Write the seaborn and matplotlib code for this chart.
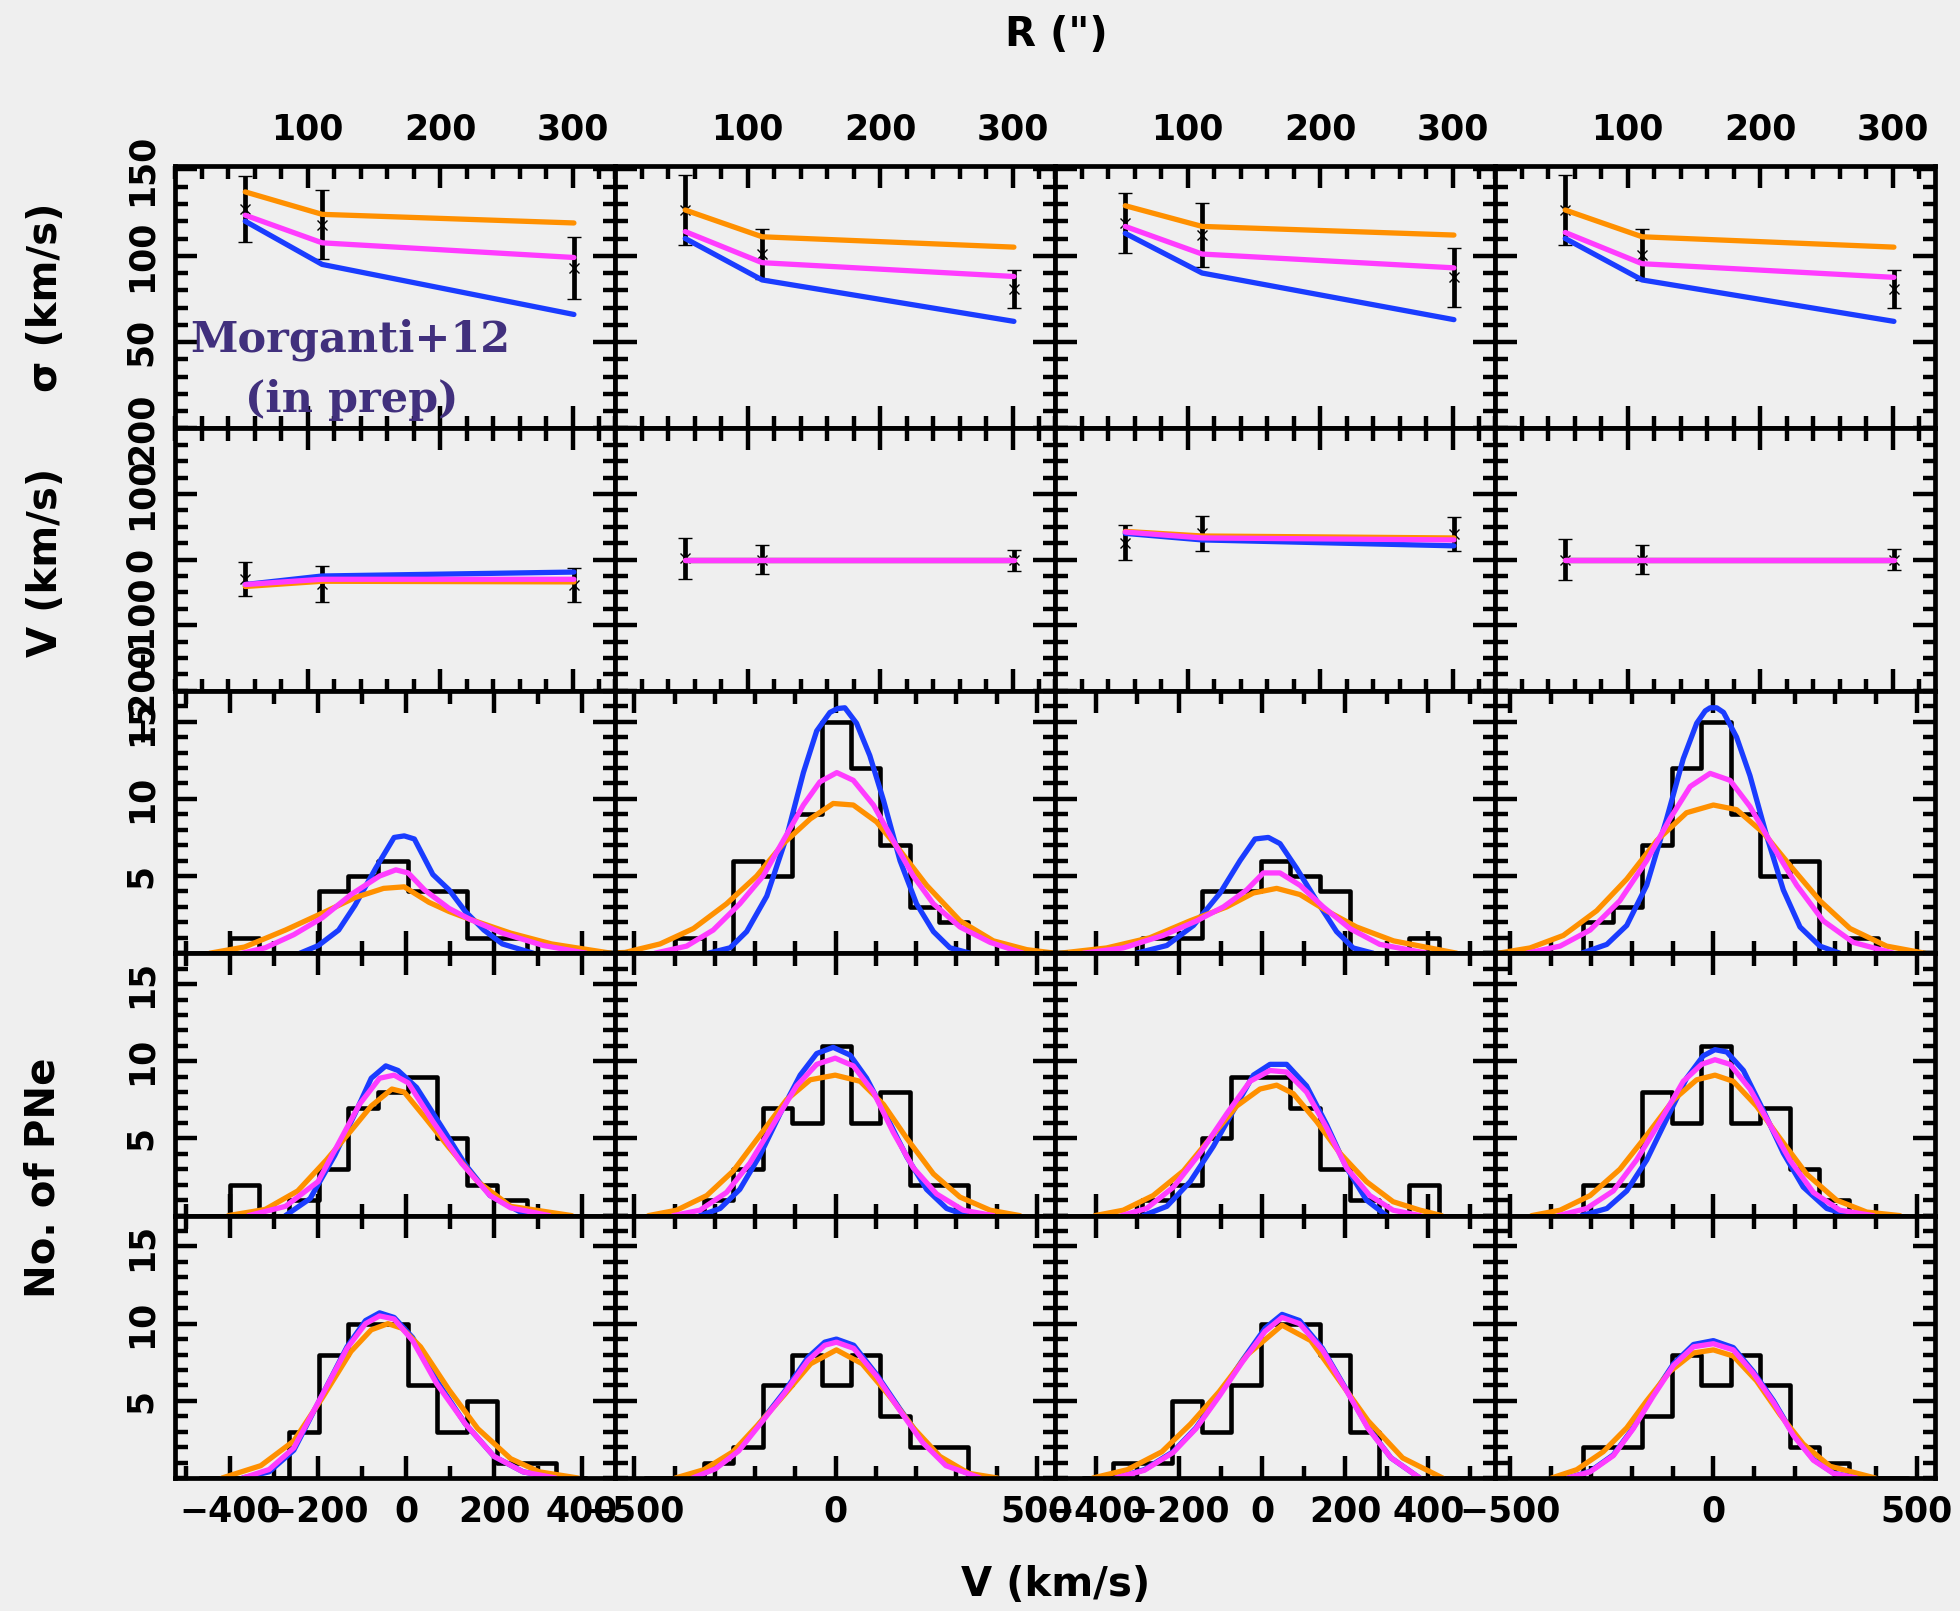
import matplotlib.pyplot as plt
import seaborn as sns
import numpy as np
from matplotlib.ticker import MultipleLocator, FixedLocator

BLUE = '#1a3cff'
MAGENTA = '#ff3cff'
ORANGE = '#ff9000'
BG = '#efefef'

# ---- kinematic profiles (top two rows), radius in arcsec ----
r_points = [53, 111, 301]

sigma_data = [[127, 118, 93], [126.5, 101, 81], [119, 112, 87.5], [126.5, 100.7, 81]]
sigma_err = [[19, 20, 18], [20, 14.5, 11], [17.5, 18.5, 17], [20.5, 15, 11]]
sigma_blue = [[120, 95, 66], [110, 86, 62], [113, 90, 63], [110, 86, 62]]
sigma_magenta = [[123.5, 107.5, 99], [114, 96, 88], [117, 101, 93], [113.5, 95.4, 87.5]]
sigma_orange = [[137, 124, 119], [126.5, 111, 105], [129, 117, 112], [126.5, 111, 105]]

vel_data = [[-29, -37, -39], [2, 0, -1], [26, 40, 39], [0, 0, 0]]
vel_err = [[26, 28, 26], [31, 22, 16], [26, 27, 26], [31, 22, 16]]
vel_blue = [[-38, -25, -19], [0, 0, 0], [40, 30, 21], [0, 0, 0]]
vel_magenta = [[-38, -30, -30], [0, 0, 0], [42, 33, 30], [0, 0, 0]]
vel_orange = [[-41, -33, -34], [0, 0, 0], [43, 36, 33], [0, 0, 0]]

# ---- velocity histograms (bottom three rows) ----
vel_range = [(-525, 475), (-548, 545), (-498, 560), (-537, 545)]

hist_edges = [
    [-468.5, -401, -333.5, -266, -198.5, -131, -63.5, 4, 71.5, 139, 206.5, 274, 341.5, 409],
    [-473, -400, -327, -254, -181, -108, -35, 38, 111, 184, 257, 330, 403],
    [-430, -359, -288, -216, -145, -74, -3, 68, 140, 211, 282, 353, 425, 496],
    [-392.5, -320, -247.5, -175, -102.5, -30, 42.5, 115, 187.5, 260, 332.5, 405, 477.5],
]
counts_row3 = [
    [0, 1, 0, 0, 4, 5, 6, 4, 4, 1, 1, 0, 0],
    [0, 1, 0, 6, 5, 9, 15, 12, 7, 3, 2, 0],
    [0, 0, 1, 1, 4, 4, 6, 5, 4, 0, 0, 1, 0],
    [0, 2, 3, 7, 12, 15, 9, 5, 6, 0, 1, 0],
]
counts_row4 = [
    [0, 2, 0, 1, 3, 7, 8, 9, 5, 2, 1, 0, 0],
    [0, 0, 1, 3, 7, 6, 11, 6, 8, 2, 2, 0],
    [0, 0, 1, 2, 5, 9, 9, 7, 3, 1, 0, 2, 0],
    [0, 2, 2, 8, 6, 11, 6, 7, 3, 1, 0, 0],
]
counts_row5 = [
    [0, 0, 0, 3, 8, 10, 10, 6, 3, 5, 1, 1, 0],
    [0, 0, 1, 2, 6, 8, 6, 8, 4, 2, 2, 0],
    [0, 1, 1, 5, 3, 6, 10, 10, 8, 3, 0, 0, 0],
    [0, 2, 2, 4, 8, 6, 8, 6, 2, 1, 0, 0],
]

# model LOSVDs: (x, y) for each model
losvd_r3c1 = {
    'blue': ([-241, -199, -153, -116, -69, -27, -4, 19, 61, 98, 135, 177, 219, 289],
             [0, 0.5, 1.5, 3.1, 5.5, 7.5, 7.6, 7.4, 5.1, 4.1, 2.7, 1.5, 0.6, 0]),
    'magenta': ([-372, -320, -255, -190, -125, -60, -23, 5, 42, 98, 145, 219, 312, 410],
                [0, 0.35, 1.2, 2.3, 3.8, 5.0, 5.4, 5.2, 4.1, 2.9, 2.2, 1.3, 0.5, 0]),
    'orange': ([-446, -367, -274, -190, -116, -51, -4, 52, 98, 145, 238, 331, 466],
               [0, 0.4, 1.5, 2.6, 3.6, 4.2, 4.3, 3.3, 2.7, 2.2, 1.3, 0.6, 0]),
}
losvd_r3c2 = {
    'blue': ([-316, -262, -221, -171, -121, -80, -47, -14, 5, 23, 52, 85, 119, 160, 201, 243, 284, 334],
             [0, 0.35, 1.4, 3.7, 7.6, 11.7, 14.4, 15.6, 15.85, 15.9, 14.9, 12.8, 9.9, 6.0, 3.2, 1.4, 0.35, 0]),
    'magenta': ([-449, -370, -304, -238, -180, -130, -80, -39, 3, 44, 94, 143, 193, 243, 309, 384, 466],
                [0, 0.46, 1.5, 3.2, 5.0, 7.3, 9.6, 11.1, 11.7, 11.2, 9.6, 7.3, 5.0, 3.2, 1.7, 0.7, 0]),
    'orange': ([-548, -523, -436, -353, -271, -196, -130, -63, -6, 44, 102, 160, 226, 309, 392, 475, 545],
               [0.02, 0.05, 0.6, 1.6, 3.2, 5.0, 7.1, 8.7, 9.7, 9.6, 8.5, 6.65, 4.4, 2.1, 0.8, 0.23, 0]),
}
losvd_r3c3 = {
    'blue': ([-302, -229, -165, -101, -53, -17, 15, 43, 83, 131, 179, 219, 267],
             [0, 0.5, 1.8, 3.9, 6.0, 7.4, 7.5, 7.1, 5.5, 3.4, 1.4, 0.34, 0]),
    'magenta': ([-430, -334, -238, -157, -93, -37, 3, 43, 91, 147, 211, 283, 396],
                [0, 0.34, 1.15, 2.1, 3.0, 4.1, 5.2, 5.2, 4.4, 3.0, 1.6, 0.57, 0]),
    'orange': ([-486, -374, -270, -173, -85, -21, 35, 91, 155, 227, 316, 468],
               [0, 0.34, 1.0, 2.1, 3.0, 3.9, 4.2, 3.8, 2.75, 1.7, 0.8, 0]),
}
losvd_r3c4 = {
    'blue': ([-324, -262, -213, -164, -115, -74, -41, -20, -8, 8, 25, 57, 90, 131, 172, 213, 262, 311],
             [0, 0.57, 1.8, 4.4, 8.7, 12.6, 14.9, 15.7, 15.9, 15.9, 15.6, 14.0, 11.5, 7.6, 4.1, 1.7, 0.46, 0]),
    'magenta': ([-459, -377, -303, -230, -164, -107, -57, -8, 41, 90, 147, 205, 270, 344, 443],
                [0, 0.46, 1.5, 3.4, 6.0, 8.7, 10.8, 11.65, 11.2, 9.5, 6.9, 4.4, 2.1, 0.7, 0]),
    'orange': ([-529, -451, -369, -287, -213, -139, -66, 0, 57, 123, 188, 262, 336, 426, 520],
               [0, 0.34, 1.15, 2.75, 4.8, 7.3, 9.1, 9.6, 9.3, 7.8, 5.7, 3.4, 1.6, 0.46, 0]),
}
losvd_r4c1 = {
    'blue': ([-274, -218, -162, -116, -79, -46, -18, 24, 80, 135, 191, 275],
             [0, 1.1, 3.9, 6.6, 8.9, 9.7, 9.4, 8.3, 5.8, 3.3, 1.3, 0]),
    'magenta': ([-358, -274, -200, -153, -106, -60, -27, 5, 61, 126, 191, 238, 326],
                [0, 0.6, 2.2, 4.7, 7.2, 8.9, 9.1, 8.6, 6.1, 3.4, 1.3, 0.5, 0]),
    'orange': ([-404, -320, -246, -181, -125, -79, -32, -4, 42, 98, 163, 238, 377],
               [0, 0.4, 1.6, 3.6, 5.5, 7.1, 8.2, 8.0, 6.4, 4.4, 2.2, 0.6, 0]),
}
losvd_r4c2 = {
    'blue': ([-337, -287, -238, -188, -138, -88, -47, -6, 36, 77, 127, 177, 226, 276, 326],
             [0, 0.46, 1.7, 3.9, 6.6, 9.1, 10.5, 10.9, 10.4, 8.9, 6.4, 3.8, 1.7, 0.46, 0]),
    'magenta': ([-403, -337, -271, -213, -155, -97, -47, -1, 44, 94, 143, 193, 251, 317, 392],
                [0, 0.35, 1.5, 3.4, 5.9, 8.4, 9.8, 10.2, 9.7, 8.0, 5.4, 3.1, 1.4, 0.35, 0]),
    'orange': ([-465, -395, -320, -254, -188, -122, -63, -1, 61, 119, 177, 243, 309, 384, 458],
               [0, 0.35, 1.3, 2.9, 5.2, 7.5, 8.8, 9.1, 8.7, 7.2, 5.0, 2.7, 1.2, 0.35, 0]),
}
losvd_r4c3 = {
    'blue': ([-286, -229, -173, -117, -69, -21, 19, 59, 107, 155, 203, 251, 299],
             [0, 0.6, 2.2, 4.5, 6.8, 9.1, 9.8, 9.8, 8.4, 5.9, 3.1, 1.0, 0]),
    'magenta': ([-338, -278, -213, -149, -85, -29, 19, 59, 107, 155, 203, 259, 315, 380],
                [0, 0.46, 1.85, 4.05, 6.6, 8.7, 9.4, 9.3, 8.0, 5.7, 3.1, 1.3, 0.35, 0]),
    'orange': ([-402, -334, -262, -189, -125, -61, -5, 35, 75, 131, 187, 251, 315, 380, 432],
               [0, 0.35, 1.3, 2.9, 5.0, 7.1, 8.2, 8.45, 7.9, 6.1, 4.05, 2.2, 0.9, 0.35, 0]),
}
losvd_r4c4 = {
    'blue': ([-324, -262, -213, -164, -115, -66, -25, 4, 33, 74, 123, 172, 221, 279, 336],
             [0, 0.46, 1.6, 3.6, 6.25, 8.9, 10.35, 10.75, 10.6, 9.4, 6.8, 4.05, 1.85, 0.46, 0]),
    'magenta': ([-381, -312, -246, -189, -131, -74, -29, 4, 41, 90, 139, 188, 246, 311, 393],
                [0, 0.46, 1.6, 3.6, 6.1, 8.7, 9.8, 10.1, 9.8, 8.2, 5.9, 3.6, 1.5, 0.35, 0]),
    'orange': ([-447, -377, -303, -230, -164, -98, -41, 4, 49, 106, 164, 229, 303, 377, 459],
               [0, 0.35, 1.3, 3.0, 5.2, 7.5, 8.8, 9.1, 8.7, 7.1, 5.0, 2.7, 1.0, 0.23, 0]),
}
losvd_r5c1 = {
    'blue': ([-371, -311, -255, -190, -134, -92, -60, -27, 15, 70, 135, 200, 266, 340],
             [0, 0.4, 1.8, 5.4, 8.5, 10.2, 10.7, 10.4, 9.1, 6.3, 3.5, 1.4, 0.4, 0]),
    'magenta': ([-371, -311, -255, -190, -134, -92, -60, -27, 15, 70, 135, 200, 266, 340],
                [0, 0.55, 1.95, 5.4, 8.4, 10.0, 10.5, 10.3, 8.9, 6.1, 3.5, 1.4, 0.4, 0]),
    'orange': ([-418, -330, -255, -190, -125, -79, -41, -9, 33, 98, 163, 238, 303, 391],
               [0, 0.8, 2.4, 5.2, 8.2, 9.6, 10.0, 9.7, 8.5, 5.7, 3.2, 1.25, 0.4, 0]),
}
losvd_r5c2 = {
    'blue': ([-355, -298, -241, -184, -127, -69, -27, 2, 45, 102, 159, 216, 274, 359],
             [0, 0.65, 1.8, 3.7, 5.6, 7.8, 8.8, 9.0, 8.6, 6.7, 4.5, 2.4, 0.87, 0]),
    'magenta': ([-355, -298, -241, -184, -127, -69, -27, 2, 45, 102, 159, 216, 274, 359],
                [0, 0.6, 1.75, 3.6, 5.5, 7.6, 8.6, 8.8, 8.4, 6.6, 4.4, 2.3, 0.8, 0]),
    'orange': ([-398, -327, -255, -191, -127, -62, 2, 66, 131, 195, 259, 331, 402],
               [0, 0.54, 1.7, 3.5, 5.4, 7.4, 8.3, 7.4, 5.4, 3.2, 1.4, 0.3, 0]),
}
losvd_r5c3 = {
    'blue': ([-352, -283, -214, -159, -103, -48, 7, 48, 90, 145, 200, 255, 310, 379],
             [0, 0.54, 1.7, 3.25, 5.4, 7.6, 9.7, 10.6, 10.2, 8.4, 5.85, 3.25, 1.3, 0]),
    'magenta': ([-352, -283, -214, -159, -103, -48, 7, 48, 90, 145, 200, 255, 310, 379],
                [0, 0.5, 1.65, 3.2, 5.3, 7.5, 9.5, 10.4, 10.0, 8.3, 5.8, 3.2, 1.3, 0]),
    'orange': ([-407, -324, -241, -172, -103, -35, 48, 117, 186, 255, 338, 434],
               [0, 0.54, 1.7, 3.5, 5.6, 8.0, 9.9, 8.9, 6.3, 3.7, 1.3, 0]),
}
losvd_r5c4 = {
    'blue': ([-357, -303, -246, -197, -148, -98, -49, 0, 49, 98, 148, 197, 246, 295, 352],
             [0, 0.43, 1.5, 3.25, 5.4, 7.4, 8.65, 8.9, 8.45, 6.9, 5.0, 2.8, 1.2, 0.32, 0]),
    'magenta': ([-357, -303, -246, -197, -148, -98, -49, 0, 49, 98, 148, 197, 246, 295, 352],
                [0, 0.4, 1.45, 3.2, 5.3, 7.3, 8.5, 8.7, 8.3, 6.8, 4.9, 2.75, 1.15, 0.3, 0]),
    'orange': ([-398, -336, -271, -213, -164, -107, -49, 0, 49, 106, 164, 221, 287, 398],
               [0, 0.54, 1.7, 3.25, 5.0, 6.9, 8.1, 8.3, 7.9, 6.3, 4.1, 2.2, 0.76, 0]),
}

hist_counts = [counts_row3, counts_row4, counts_row5]
losvds = [
    [losvd_r3c1, losvd_r3c2, losvd_r3c3, losvd_r3c4],
    [losvd_r4c1, losvd_r4c2, losvd_r4c3, losvd_r4c4],
    [losvd_r5c1, losvd_r5c2, losvd_r5c3, losvd_r5c4],
]

sns.set_style('ticks')
plt.rcParams['font.family'] = ['DejaVu Sans']
plt.rcParams['font.weight'] = 'bold'
plt.rcParams['text.color'] = 'black'
plt.rcParams['axes.labelcolor'] = 'black'
plt.rcParams['axes.unicode_minus'] = True

fig, axes = plt.subplots(5, 4, figsize=(19.6, 16.11), dpi=100)
fig.patch.set_facecolor(BG)
fig.subplots_adjust(left=175 / 1960, right=1935 / 1960, top=1 - 166 / 1611,
                    bottom=1 - 1478 / 1611, wspace=0, hspace=0)

LABEL_SIZE = 25
TITLE_SIZE = 29
LW = 3.8


def style_axis(ax):
    ax.set_facecolor(BG)
    for s in ax.spines.values():
        s.set_linewidth(3.4)
        s.set_color('black')
    ax.tick_params(which='both', direction='in', top=True, right=True,
                   bottom=True, left=True, width=3.2, colors='black',
                   labelsize=LABEL_SIZE, labelbottom=False, labeltop=False,
                   labelleft=False, labelright=False)
    ax.tick_params(which='major', length=16)
    ax.tick_params(which='minor', length=9)
    ax.set_xlabel('')
    ax.set_ylabel('')


def rotate_ylabels(ax):
    ax.tick_params(axis='y', labelleft=True, labelrotation=90, pad=12)
    for lbl in ax.get_yticklabels():
        lbl.set_verticalalignment('center')


def draw_errors(ax, y, err):
    ax.errorbar(r_points, y, yerr=err, fmt='x', color='black', ms=7, mew=1.0,
                elinewidth=3.4, capsize=5, capthick=3.4, zorder=2)


for c in range(4):
    # sigma profile
    ax = axes[0, c]
    draw_errors(ax, sigma_data[c], sigma_err[c])
    for vals, col in ((sigma_blue[c], BLUE), (sigma_orange[c], ORANGE), (sigma_magenta[c], MAGENTA)):
        sns.lineplot(x=r_points, y=vals, color=col, lw=LW, ax=ax, zorder=3)
    style_axis(ax)
    ax.set_xlim(0, 332)
    ax.set_ylim(0, 152)
    ax.xaxis.set_major_locator(FixedLocator([100, 200, 300]))
    ax.xaxis.set_minor_locator(MultipleLocator(20))
    ax.yaxis.set_major_locator(FixedLocator([50, 100, 150]))
    ax.yaxis.set_minor_locator(MultipleLocator(10))
    ax.tick_params(axis='x', labeltop=True, pad=14)
    if c == 0:
        rotate_ylabels(ax)

    # mean velocity profile
    ax = axes[1, c]
    draw_errors(ax, vel_data[c], vel_err[c])
    for vals, col in ((vel_blue[c], BLUE), (vel_orange[c], ORANGE), (vel_magenta[c], MAGENTA)):
        sns.lineplot(x=r_points, y=vals, color=col, lw=LW, ax=ax, zorder=3)
    style_axis(ax)
    ax.set_xlim(0, 332)
    ax.set_ylim(-200, 200)
    ax.xaxis.set_major_locator(FixedLocator([100, 200, 300]))
    ax.xaxis.set_minor_locator(MultipleLocator(20))
    ax.yaxis.set_major_locator(FixedLocator([-200, -100, 0, 100, 200]))
    ax.yaxis.set_minor_locator(MultipleLocator(25))
    if c == 0:
        rotate_ylabels(ax)

    # histograms of PN velocities with model LOSVDs
    edges = hist_edges[c]
    centers = [(a + b) / 2 for a, b in zip(edges[:-1], edges[1:])]
    for r in range(3):
        ax = axes[r + 2, c]
        sns.histplot(x=centers, weights=hist_counts[r][c], bins=edges, element='step',
                     fill=False, color='black', linewidth=3.3, ax=ax)
        curves = losvds[r][c]
        for key, col in (('blue', BLUE), ('orange', ORANGE), ('magenta', MAGENTA)):
            xs, ys = curves[key]
            sns.lineplot(x=xs, y=ys, color=col, lw=LW, ax=ax)
        style_axis(ax)
        ax.set_xlim(*vel_range[c])
        ax.set_ylim(0, 17)
        if c in (0, 2):
            ax.xaxis.set_major_locator(MultipleLocator(200))
        else:
            ax.xaxis.set_major_locator(MultipleLocator(500))
        ax.xaxis.set_minor_locator(MultipleLocator(100))
        ax.yaxis.set_major_locator(FixedLocator([5, 10, 15]))
        ax.yaxis.set_minor_locator(MultipleLocator(1))
        if r == 2:
            ax.tick_params(axis='x', labelbottom=True, pad=12)
        if c == 0:
            rotate_ylabels(ax)

# axis titles
fig.text(1056 / 1960, 1 - 35 / 1611, 'R (")', ha='center', va='center', fontsize=TITLE_SIZE)
fig.text(1056 / 1960, 1 - 1585 / 1611, 'V (km/s)', ha='center', va='center', fontsize=TITLE_SIZE)
fig.text(46 / 1960, 1 - 297 / 1611, 'σ (km/s)', ha='center', va='center',
         rotation=90, fontsize=TITLE_SIZE)
fig.text(46 / 1960, 1 - 562 / 1611, 'V (km/s)', ha='center', va='center',
         rotation=90, fontsize=TITLE_SIZE)
fig.text(44 / 1960, 1 - 1178 / 1611, 'No. of PNe', ha='center', va='center',
         rotation=90, fontsize=TITLE_SIZE)

# annotation in the first panel
fig.text(350 / 1960, 1 - 340 / 1611, 'Morganti+12', ha='center', va='center',
         fontsize=31, family='DejaVu Serif', weight='heavy', color='#41307d')
fig.text(352 / 1960, 1 - 400 / 1611, '(in prep)', ha='center', va='center',
         fontsize=31, family='DejaVu Serif', weight='heavy', color='#41307d')

fig.savefig('out.png', dpi=100, facecolor=BG)
